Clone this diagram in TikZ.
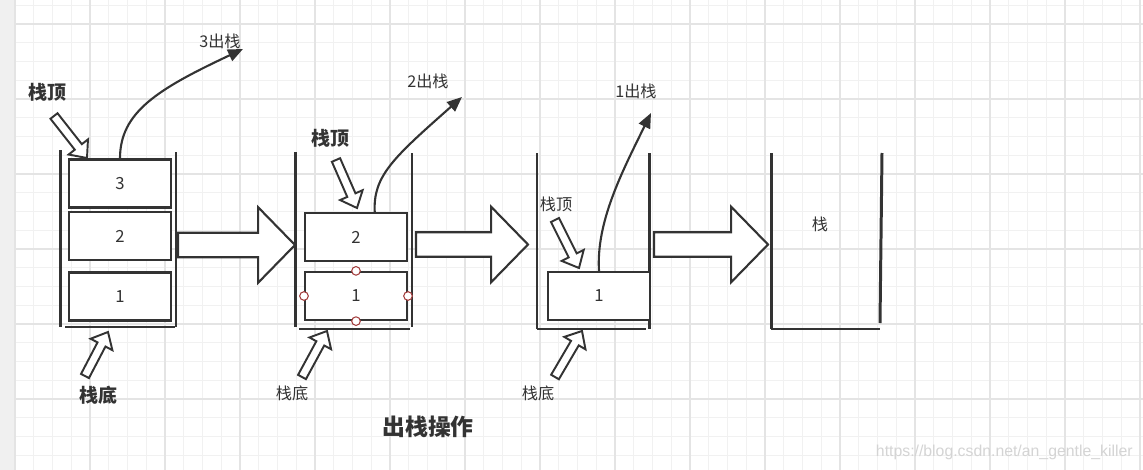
\documentclass[tikz,border=0pt]{standalone}
\usepackage{fontspec}
\setmainfont{Noto Sans CJK SC}
\newfontfamily\wmfont{Liberation Sans}
\usetikzlibrary{calc,arrows.meta}
\definecolor{ink}{HTML}{333333}
\definecolor{gridminor}{HTML}{F1F1F1}
\definecolor{gridmajor}{HTML}{E4E4E4}
\definecolor{strip}{HTML}{F0F0F0}
\definecolor{handle}{HTML}{A33C3C}
\definecolor{wmark}{HTML}{D4D4D4}
\newcommand\hollowarrow[6]{%
  \coordinate (hb) at ($(#2)!#5!(#1)$);
  \draw[#6] ($(#1)!#3!90:(#2)$) -- ($(hb)!#3!90:(#2)$) -- ($(hb)!#4!90:(#2)$) -- (#2)
    -- ($(hb)!#4!-90:(#2)$) -- ($(hb)!#3!-90:(#2)$) -- ($(#1)!#3!-90:(#2)$) -- cycle;
}
\tikzset{
  wall/.style={draw=ink, line width=1.7pt},
  cell/.style={draw=ink, line width=1.4pt, fill=white, minimum width=57.8pt, minimum height=27.2pt, inner sep=0pt, text=ink, font=\fontsize{9.5}{10}\selectfont},
  lbl/.style={text=ink, inner sep=0pt, font=\fontsize{9.2}{10}\selectfont},
  blbl/.style={text=ink, inner sep=0pt, font=\fontsize{10.8}{12}\selectfont\bfseries},
  outarrow/.style={draw=ink, line width=1.2pt, -{Triangle[length=8.5pt,width=7pt]}},
  smallblk/.style={draw=ink, line width=1.1pt, fill=white, line join=miter},
  bigblk/.style={draw=ink, line width=1.2pt, fill=white, line join=miter},
  hdl/.style={circle, draw=handle, line width=0.6pt, fill=white, minimum size=4.9pt, inner sep=0pt},
}
\begin{document}
\begin{tikzpicture}[x=0.02cm, y=-0.02cm]
\useasboundingbox (0,0) rectangle (1143,470);
% background
\fill[white] (0,0) rectangle (1143,470);
\fill[strip] (0,0) rectangle (15,470);
\foreach \xx in {15,33.75,...,1141} \draw[gridminor, line width=0.6pt] (\xx,0) -- (\xx,470);
\foreach \yy in {5.25,24,...,470} \draw[gridminor, line width=0.6pt] (15,\yy) -- (1143,\yy);
\foreach \xx in {15,90,...,1141} \draw[gridmajor, line width=0.7pt] (\xx,0) -- (\xx,470);
\foreach \yy in {24,99,...,470} \draw[gridmajor, line width=0.7pt] (15,\yy) -- (1143,\yy);

% ---------- stack 1 ----------
\draw[wall] (60.5,150) -- (60.5,327);
\draw[wall] (176,152) -- (176,327);
\draw[wall] (65,327) -- (175,327);
\node[cell] (s1c3) at (120,183.5) {3};
\node[cell] (s1c2) at (120,236) {2};
\node[cell] (s1c1) at (120,296.5) {1};
\node[lbl] (out3) at (220,41) {3出栈};
\coordinate (out3tip) at (243,49);
\draw[outarrow] (s1c3.north) .. controls (120,112) and (158,89) .. (out3tip);
\node[blbl] (top1) at (47,92) {栈顶};
\coordinate (t1a) at (54,116); \coordinate (t1b) at (87,158);
\hollowarrow{t1a}{t1b}{2.55pt}{7pt}{8pt}{smallblk}
\node[blbl] (bot1) at (98,395) {栈底};
\coordinate (b1a) at (85,376); \coordinate (b1b) at (108,332);
\hollowarrow{b1a}{b1b}{2.55pt}{7pt}{8pt}{smallblk}
\coordinate (g1a) at (178,245); \coordinate (g1b) at (295,245);
\hollowarrow{g1a}{g1b}{7pt}{21.5pt}{21pt}{bigblk}

% ---------- stack 2 ----------
\draw[wall] (295.7,152) -- (295.7,327);
\draw[wall] (412,153) -- (412,327);
\draw[wall] (299,329) -- (410,329);
\node[cell] (s2c2) at (356,237) {2};
\node[cell] (s2c1) at (356,296) {1};
\node[hdl] (h1) at (s2c1.north) {};
\node[hdl] (h2) at (s2c1.south) {};
\node[hdl] (h3) at (s2c1.west) {};
\node[hdl] (h4) at (s2c1.east) {};
\node[lbl] (out2) at (428,81) {2出栈};
\coordinate (out2tip) at (462,97);
\coordinate (s2start) at ($(s2c2.north west)!0.68!(s2c2.north east)$);
\draw[outarrow] (s2start) .. controls (373,176) and (393,158) .. (out2tip);
\node[blbl] (top2) at (330,138) {栈顶};
\coordinate (t2a) at (336,160); \coordinate (t2b) at (357,208);
\hollowarrow{t2a}{t2b}{2.55pt}{7pt}{8pt}{smallblk}
\node[lbl] (bot2) at (292,393) {栈底};
\coordinate (b2a) at (302,377); \coordinate (b2b) at (327,331);
\hollowarrow{b2a}{b2b}{2.55pt}{7pt}{8pt}{smallblk}
\coordinate (g2a) at (416,244.5); \coordinate (g2b) at (528,244.5);
\hollowarrow{g2a}{g2b}{7pt}{21.5pt}{21pt}{bigblk}

% ---------- stack 3 ----------
\draw[wall] (537,153) -- (537,329);
\draw[wall] (649,153) -- (649,329);
\draw[wall] (537,329) -- (646,329);
\node[cell] (s3c1) at (599,296) {1};
\node[lbl] (out1) at (636,91) {1出栈};
\coordinate (out1tip) at (651,113);
\draw[outarrow] (s3c1.north) .. controls (596,222) and (622,172) .. (out1tip);
\node[lbl] (top3) at (556,204) {栈顶};
\coordinate (t3a) at (555,220); \coordinate (t3b) at (579,268);
\hollowarrow{t3a}{t3b}{2.55pt}{7pt}{8pt}{smallblk}
\node[lbl] (bot3) at (538,393) {栈底};
\coordinate (b3a) at (555,377); \coordinate (b3b) at (582,331);
\hollowarrow{b3a}{b3b}{2.55pt}{7pt}{8pt}{smallblk}
\coordinate (g3a) at (654,244.5); \coordinate (g3b) at (768,244.5);
\hollowarrow{g3a}{g3b}{7pt}{21.5pt}{21pt}{bigblk}

% ---------- stack 4 ----------
\draw[wall] (771,153) -- (771,329);
\draw[wall] (882,153) -- (880,323);
\draw[wall] (771,329) -- (880,329);
\node[lbl] (empty) at (820,224) {栈};

% ---------- title & watermark ----------
\node[text=ink, inner sep=0pt, font=\fontsize{13}{15}\selectfont\bfseries] (title) at (428,427) {出栈操作};
\node[text=wmark, inner sep=0pt, anchor=east, font=\wmfont\fontsize{9}{10}\selectfont] (wm) at (1133,452) {https://blog.csdn.net/an\_gentle\_killer};
\end{tikzpicture}
\end{document}
